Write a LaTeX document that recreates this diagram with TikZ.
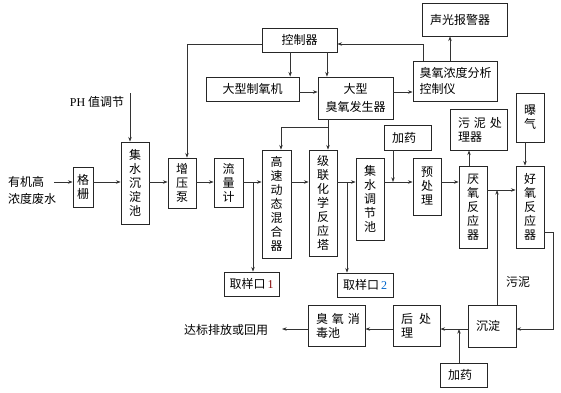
\documentclass[tikz,border=0pt]{standalone}
\usepackage{fontspec}
\setmainfont{Noto Sans CJK SC}
\newfontfamily\latinfont{Liberation Serif}
\usetikzlibrary{arrows.meta,shadows}
\definecolor{numred}{RGB}{128,0,0}
\definecolor{numblue}{RGB}{0,102,204}

\begin{document}
\begin{tikzpicture}[x=0.75pt,y=-0.75pt,
  box/.style={draw=black!85,line width=0.6pt,fill=white,inner sep=2pt,
    font=\fontsize{9}{10.5}\selectfont,align=center,
    drop shadow={shadow xshift=0.6pt,shadow yshift=-0.6pt,fill=black!45,opacity=1}},
  lbox/.style={box,align=left,inner xsep=6pt},
  flow/.style={draw=black!80,line width=0.5pt,-{Stealth[length=3.5pt,width=2.6pt]}},
  lbl/.style={font=\fontsize{9}{12.75}\selectfont,inner sep=0pt}]
\useasboundingbox (0,0) rectangle (561,393);

% main line
\node[box,minimum width=15pt,minimum height=30pt] (gs) at (83,187) {格\\栅};
\node[box,minimum width=21pt,minimum height=61.5pt] (jc) at (135,183) {集\\水\\沉\\淀\\池};
\node[box,minimum width=21pt,minimum height=37.5pt] (zy) at (182,183) {增\\压\\泵};
\node[box,minimum width=21.75pt,minimum height=36.75pt] (ll) at (228.5,182.5) {流\\量\\计};
\node[box,minimum width=21.75pt,minimum height=81pt] (hs) at (276.5,204) {高\\速\\动\\态\\混\\合\\器};
\node[box,minimum width=21pt,minimum height=79.5pt] (jl) at (323,203) {级\\联\\化\\学\\反\\应\\塔};
\node[box,minimum width=21pt,minimum height=61.5pt] (tj) at (370,199) {集\\水\\调\\节\\池};
\node[box,minimum width=21pt,minimum height=42.75pt] (yc) at (427,186.5) {预\\处\\理};
\node[box,minimum width=21pt,minimum height=61.5pt] (yy) at (473,207) {厌\\氧\\反\\应\\器};
\node[box,minimum width=21pt,minimum height=61.5pt] (hy) at (530,207) {好\\氧\\反\\应\\器};
\node[box,minimum width=21pt,minimum height=36.75pt] (pq) at (530,117.5) {曝\\气};
\node[lbox,text width=30.75pt,minimum height=30.75pt] (wn) at (478.5,129.5) {污~泥~处\\理器};
\node[lbox,text width=23.25pt,minimum height=18.75pt] (jy1) at (407.5,137.5) {加药};
\node[box,minimum width=41.25pt,minimum height=18pt] (qy1) at (251.5,284) {取样口\,{\latinfont\color{numred}1}};
\node[box,minimum width=42pt,minimum height=18pt] (qy2) at (365,285) {取样口\,{\latinfont\color{numblue}2}};

% bottom line
\node[lbox,text width=24pt,minimum height=31.5pt] (cd) at (492,326) {沉淀};
\node[lbox,text width=23.25pt,minimum height=30.75pt] (hc) at (416.5,325.5) {后\hspace{4.5pt}处\\理};
\node[lbox,text width=23.25pt,minimum height=18pt] (jy2) at (463.5,375) {加药};
\node[lbox,text width=30.75pt,minimum height=30.75pt] (xd) at (336.5,325.5) {臭~氧~消\\毒池};

% control part
\node[box,minimum width=56.25pt,minimum height=18pt] (kz) at (299.5,40) {控制器};
\node[box,minimum width=69.75pt,minimum height=18pt] (zyj) at (252.5,89) {大型制氧机};
\node[box,minimum width=56.25pt,minimum height=31.5pt,font=\fontsize{9}{13.5}\selectfont] (fs) at (355.5,98) {大型\\臭氧发生器};
\node[lbox,inner xsep=5pt,text width=53pt,minimum height=30pt,font=\fontsize{9}{11.8}\selectfont] (fx) at (455,81) {臭氧浓度分析\\控制仪};
\node[lbox,text width=51.75pt,minimum height=24.75pt] (bj) at (464.5,19.5) {声光报警器};

% labels
\node[lbl,align=left] (src) at (32,190.5) {有机高\\浓度废水};
\node[lbl] (phl) at (97,102) {{\latinfont PH} 值调节};
\node[lbl] (dst) at (226,330) {达标排放或回用};
\node[lbl] (wnl) at (518,282) {污泥};

\coordinate (in) at (54,182);
\coordinate (ph) at (130,93);
\coordinate (s1) at (253,182);
\coordinate (s2) at (347,182);
\coordinate (d1) at (393,182);
\coordinate (s3) at (497,190);
\coordinate (b1) at (553,232);
\coordinate (b2) at (553,329);
\coordinate (d2) at (459,329);
\coordinate (out) at (282,329);
\coordinate (c1) at (187,44);
\coordinate (c3) at (423,44);
\coordinate (c4) at (328,127);
\coordinate (c5) at (281,127);

\draw[flow] (in) -- (in-|gs.west);
\draw[flow] (gs.east|-in) -- (jc.west|-in);
\draw[flow] (jc.east|-in) -- (zy.west|-in);
\draw[flow] (zy.east|-in) -- (ll.west|-in);
\draw[flow] (ll.east|-in) -- (hs.west|-in);
\draw[flow] (s1) -- (s1|-qy1.north);
\draw[flow] (hs.east|-in) -- (jl.west|-in);
\draw[flow] (jl.east|-in) -- (tj.west|-in);
\draw[flow] (s2) -- (s2|-qy2.north);
\draw[flow] (tj.east|-in) -- (yc.west|-in);
\draw[flow] (d1|-jy1.south) -- (d1);
\draw[flow] (yc.east|-in) -- (yy.west|-in);
\draw[flow] (yy.east|-s3) -- (hy.west|-s3);
\draw[flow] ([xshift=-3pt]yy.north) -- ([xshift=-3pt]yy.north|-wn.south);
\draw[flow] ([xshift=-3.75pt]pq.south) -- ([xshift=-3.75pt]pq.south|-hy.north);
\draw[flow] (hy.east|-b1) -- (b1) -- (b2) -- (cd.east|-b2);
\draw[flow] (s3|-cd.north) -- (s3);
\draw[flow] (cd.west|-b2) -- (hc.east|-b2);
\draw[flow] (d2|-jy2.north) -- (d2);
\draw[flow] (hc.west|-b2) -- (xd.east|-b2);
\draw[flow] (xd.west|-b2) -- (out);
\draw[flow] (ph) -- (ph|-jc.north);

% ozone control
\draw[flow] (kz.west|-c1) -- (c1) -- (c1|-zy.north);
\draw[flow] ([xshift=-7pt]kz.south) -- ([xshift=-7pt]kz.south|-zyj.north);
\draw[flow] ([xshift=20.6pt]kz.south) -- ([xshift=20.6pt]kz.south|-fs.north);
\draw[flow] ([yshift=-2.25pt]zyj.east) -- ([yshift=-2.25pt]zyj.east-|fs.west);
\draw[flow] ([yshift=4.5pt]fs.east) -- ([yshift=4.5pt]fs.east-|fx.west);
\draw[flow] ([xshift=-3.75pt]fx.north) -- ([xshift=-3.75pt]fx.north|-bj.south);
\draw[flow] (c3|-fx.north) -- (c3) -- (kz.east|-c3);
\draw[flow] (c4|-fs.south) -- (c4|-jl.north);
\draw[flow] (c4) -- (c5) -- (c5|-hs.north);
\end{tikzpicture}
\end{document}
